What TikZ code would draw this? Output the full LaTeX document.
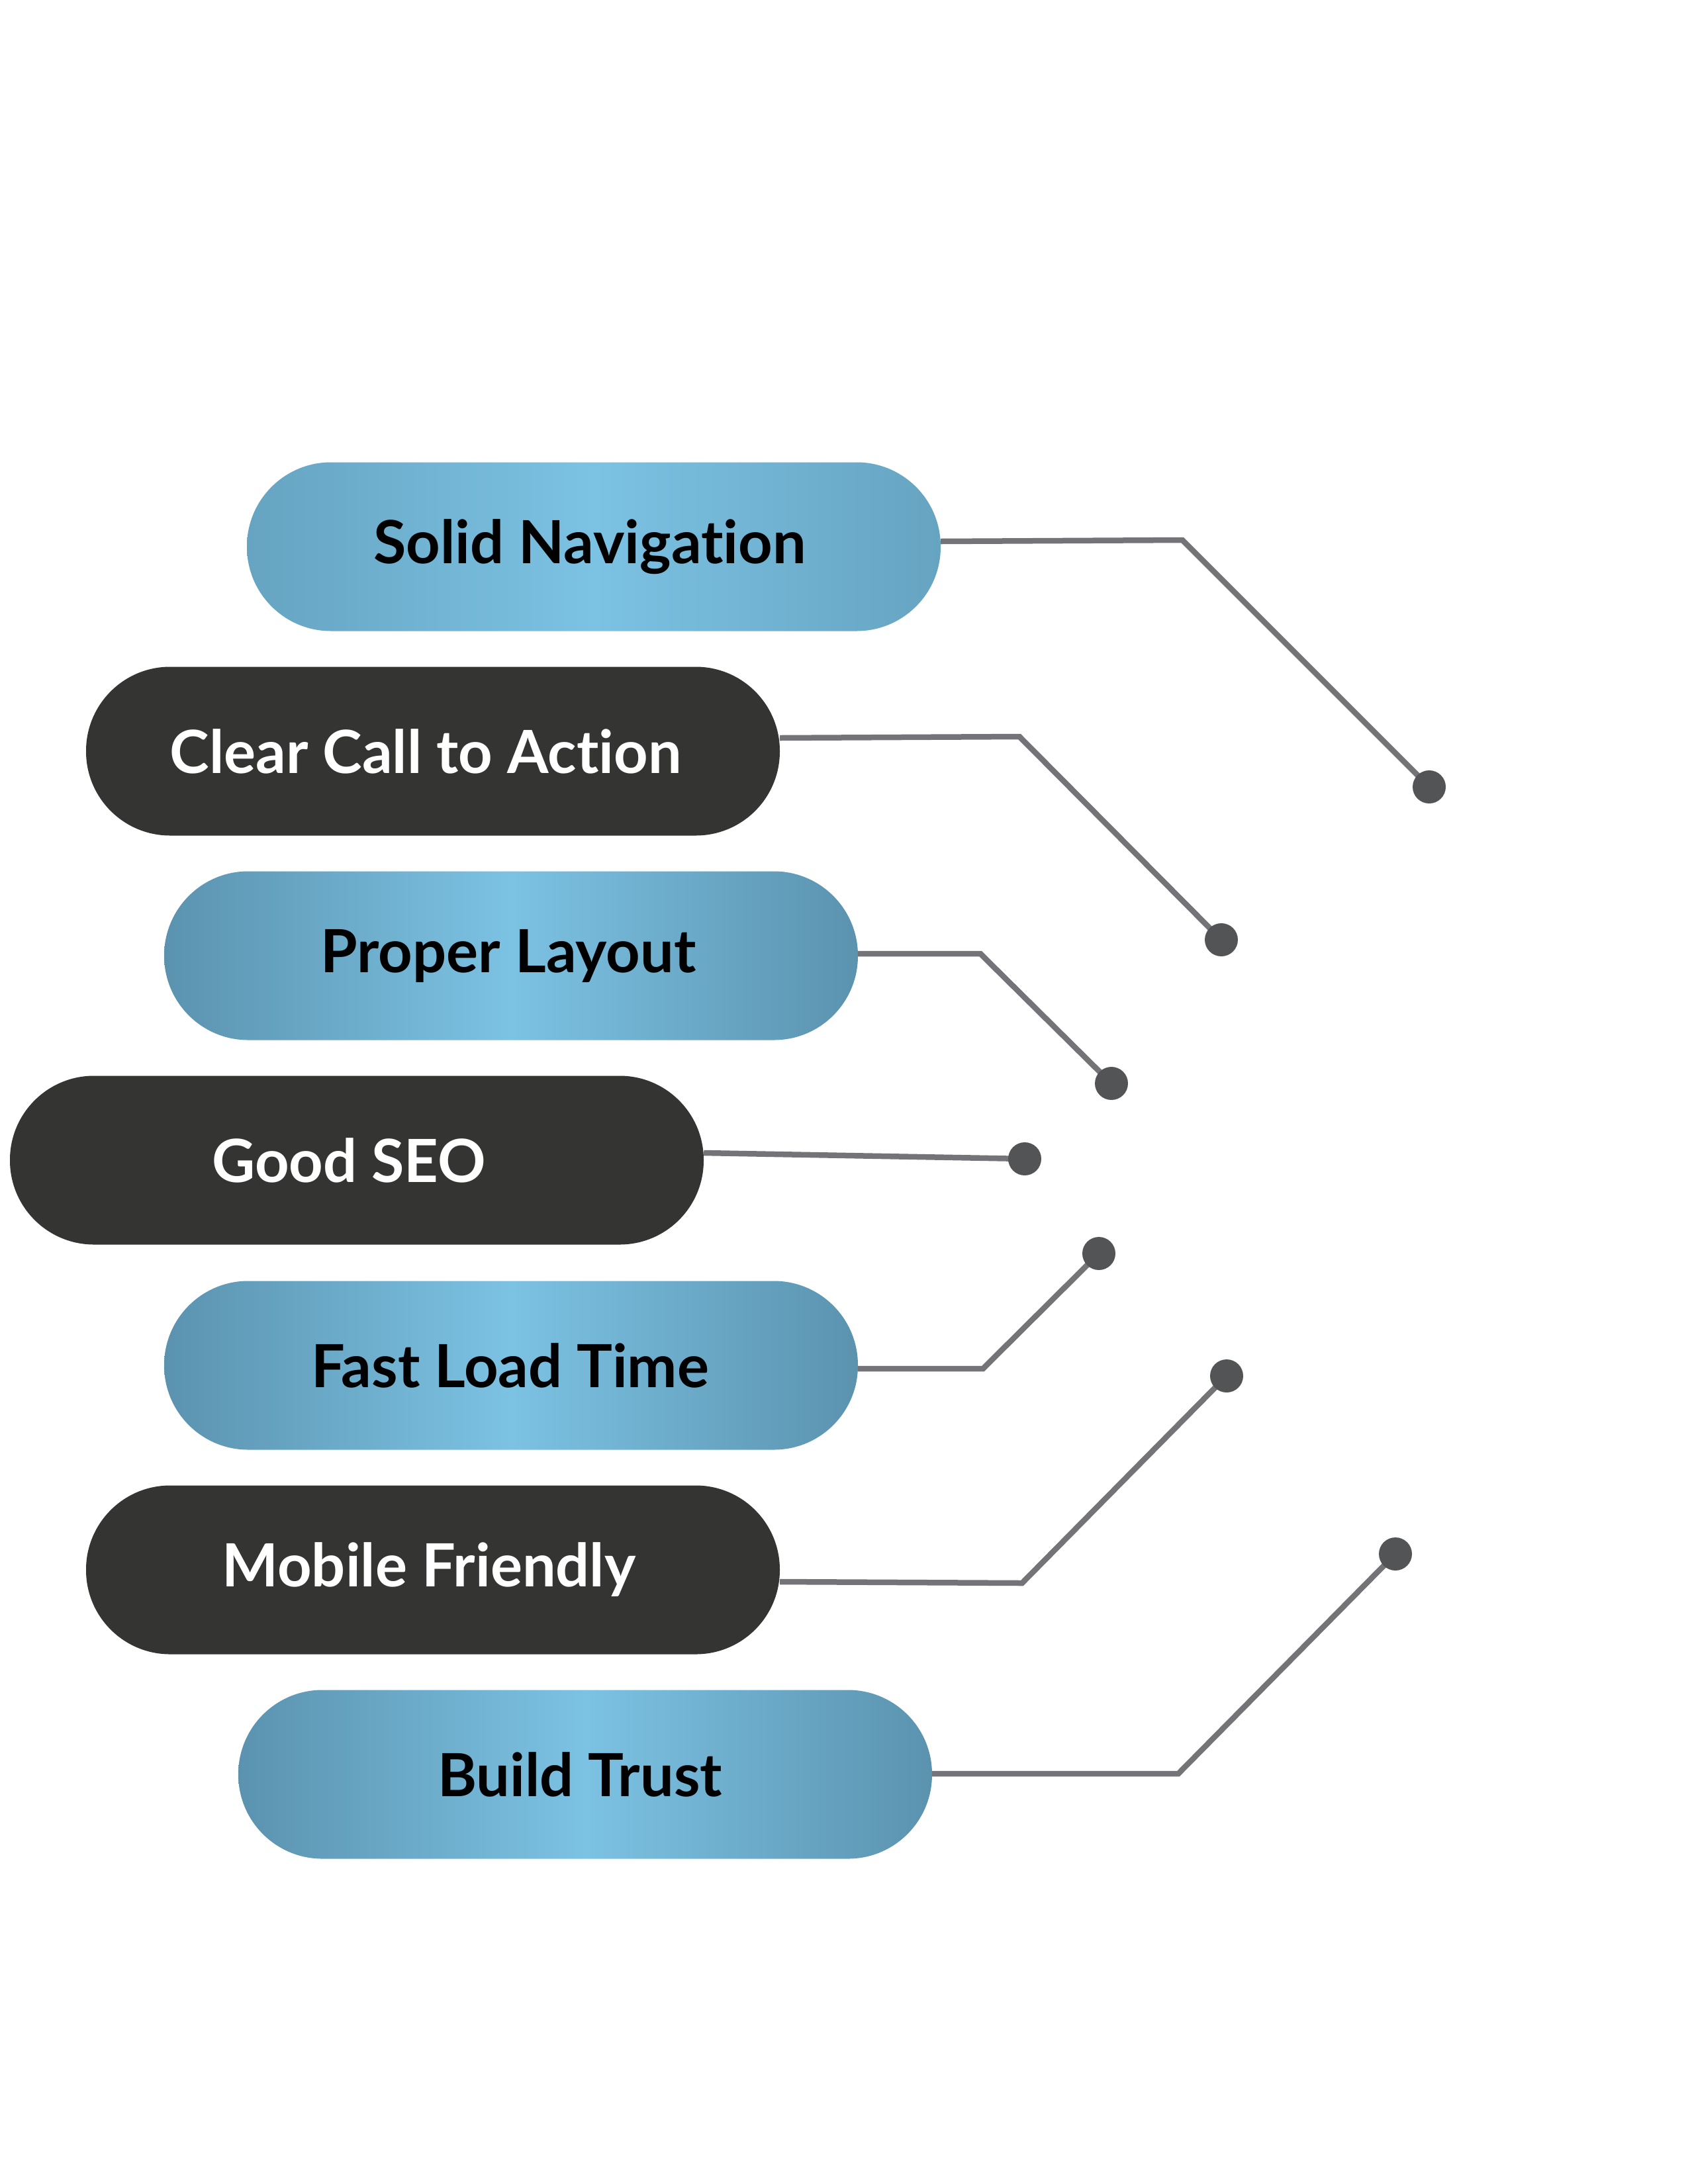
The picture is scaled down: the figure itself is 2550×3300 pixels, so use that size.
\documentclass[tikz,border=0pt]{standalone}
\usepackage{fontspec}
\setmainfont{Lato}[Ligatures={NoCommon}]
\definecolor{pillmid}{HTML}{7CC2E3}
\definecolor{pilledge}{HTML}{5B93AF}
\definecolor{pilledgeA}{HTML}{66A4C1}
\definecolor{pilldark}{HTML}{343432}
\definecolor{linegray}{HTML}{747478}
\definecolor{dotgray}{HTML}{535456}
\tikzset{
  pill/.style={minimum width=1048pt, minimum height=255pt, inner sep=0pt,
    rounded corners=127pt, font=\fontsize{90}{100}\selectfont\bfseries},
  bluepill/.style={pill, left color=pilledge, right color=pilledge, middle color=pillmid, text=black},
  darkpill/.style={pill, fill=pilldark, text=white},
  conn/.style={draw=linegray, line width=8.5pt},
  dot/.style={circle, fill=dotgray, minimum size=50pt, inner sep=0pt}
}
\begin{document}
\begin{tikzpicture}[x=1pt,y=-1pt]
\useasboundingbox (0,0) rectangle (2550,3300);
\fill[white] (0,0) rectangle (2550,3300);
% pills
\node[bluepill, left color=pilledgeA, right color=pilledgeA, middle color=pillmid] (p1) at (897,826) {Solid Navigation\hspace*{12pt}};
\node[darkpill] (p2) at (654,1135) {Clear Call to Action\hspace*{22pt}};
\node[bluepill] (p3) at (772,1444) {Proper Layout\hspace*{8pt}};
\node[darkpill] (p4) at (539,1753) {Good SEO\hspace*{24pt}};
\node[bluepill] (p5) at (772,2063) {Fast Load Time\hspace*{2pt}};
\node[darkpill] (p6) at (654,2372) {Mobile Friendly\hspace*{12pt}};
\node[bluepill] (p7) at (884,2681) {Build Trust\hspace*{16pt}};
% bends
\coordinate (b1) at (1786,816);
\coordinate (b2) at (1540,1113);
\coordinate (b3) at (1481,1441);
\coordinate (b5) at (1485,2068);
\coordinate (b6) at (1544,2392);
\coordinate (b7) at (1780,2680);
% dots
\coordinate (c1) at (2159,1189);
\coordinate (c2) at (1845,1420);
\coordinate (c3) at (1679,1637);
\coordinate (c4) at (1548,1751);
\coordinate (c5) at (1660,1894);
\coordinate (c6) at (1853,2079);
\coordinate (c7) at (2108,2348);
% connectors
\draw[conn] ([yshift=8pt]p1.east) -- (b1) -- (c1);
\draw[conn] ([yshift=20pt]p2.east) -- (b2) -- (c2);
\draw[conn] ([yshift=3pt]p3.east) -- (b3) -- (c3);
\draw[conn] ([yshift=11pt]p4.east) -- (c4);
\draw[conn] ([yshift=-5pt]p5.east) -- (b5) -- (c5);
\draw[conn] ([yshift=-18pt]p6.east) -- (b6) -- (c6);
\draw[conn] ([yshift=1pt]p7.east) -- (b7) -- (c7);
\foreach \i in {1,...,7} { \node[dot] (d\i) at (c\i) {}; }
\end{tikzpicture}
\end{document}
